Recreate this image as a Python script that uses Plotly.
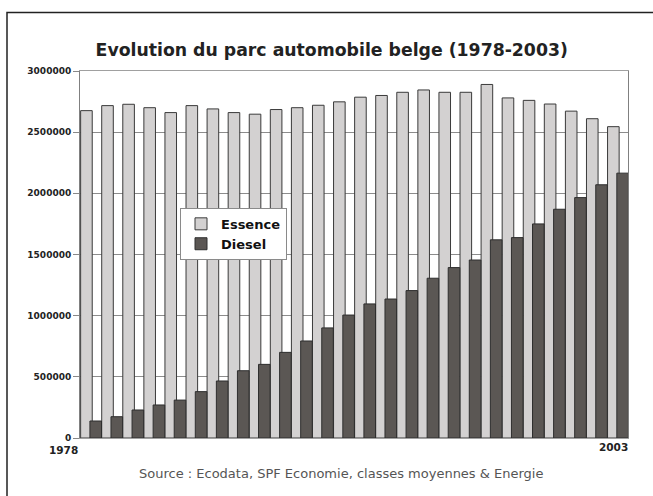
import plotly.graph_objects as go

years = list(range(1978, 2004))
essence = [2676000, 2717000, 2728000, 2700000, 2660000, 2717000, 2690000, 2660000, 2647000,
           2685000, 2700000, 2720000, 2748000, 2786000, 2800000, 2826000, 2845000, 2826000,
           2826000, 2890000, 2780000, 2760000, 2730000, 2672000, 2610000, 2545000]
diesel = [139000, 174000, 229000, 270000, 310000, 379000, 466000, 550000, 602000,
          700000, 793000, 900000, 1005000, 1096000, 1136000, 1205000, 1306000, 1393000,
          1455000, 1620000, 1638000, 1750000, 1870000, 1965000, 2070000, 2165000]
series_names = ["Essence", "Diesel"]
y_ticks = [0, 500000, 1000000, 1500000, 2000000, 2500000, 3000000]
first_label, last_label = str(years[0]), str(years[-1])
title_text = "Evolution du parc automobile belge (1978-2003)"
source_text = "Source : Ecodata, SPF Economie, classes moyennes & Energie"

FONT = "DejaVu Sans, Liberation Sans, Arial, sans-serif"

fig = go.Figure()
fig.add_trace(go.Bar(
    x=years, y=essence, name=series_names[0],
    offset=-0.47, width=0.55,
    marker=dict(color="#d3d1d1", line=dict(color="#3a3a3a", width=1)),
))
fig.add_trace(go.Bar(
    x=years, y=diesel, name=series_names[1],
    offset=-0.03, width=0.55,
    marker=dict(color="#5b5754", line=dict(color="#2e2e2e", width=1)),
))

fig.update_layout(
    width=653, height=496,
    margin=dict(l=80, r=25, t=71, b=58),
    paper_bgcolor="white", plot_bgcolor="white",
    barmode="overlay",
    showlegend=True,
    title=dict(text=title_text, x=0.508, xanchor="center", xref="container",
               y=1 - 50 / 496, yanchor="middle", yref="container",
               font=dict(family=FONT, size=17.3, color="#222222", weight="bold")),
    legend=dict(x=0.1825, y=0.627, xanchor="left", yanchor="top",
                bgcolor="white", bordercolor="#8a8a8a", borderwidth=1,
                font=dict(family=FONT, size=13, color="#111111", weight="bold"),
                traceorder="normal"),
    xaxis=dict(range=[years[0] - 0.5, years[-1] + 0.5], showticklabels=False,
               showgrid=False, ticks="", showline=True, linecolor="#a0a0a0",
               mirror=True, zeroline=False),
    yaxis=dict(range=[0, 3000000], tickvals=y_ticks,
               ticktext=[str(v) for v in y_ticks],
               tickfont=dict(family=FONT, size=9, color="#222222", weight="bold"),
               ticks="outside", ticklen=6, tickcolor="#888888",
               showgrid=True, gridcolor="#8c8c8c", gridwidth=1,
               showline=True, linecolor="#808080", mirror=True, zeroline=False),
    annotations=[
        dict(x=years[0], y=0, xref="x", yref="paper", text=first_label, showarrow=False,
             xshift=-27, yshift=-20, font=dict(family=FONT, size=10.5, color="#222222", weight="bold")),
        dict(x=years[-1], y=0, xref="x", yref="paper", text=last_label, showarrow=False,
             xshift=-4, yshift=-17, font=dict(family=FONT, size=10.5, color="#222222", weight="bold")),
        dict(x=(341 - 80) / 548, y=(438 - 473) / 367, xref="paper", yref="paper", text=source_text,
             showarrow=False, xanchor="center", yanchor="middle",
             font=dict(family=FONT, size=13, color="#555555")),
    ],
    shapes=[
        dict(type="rect", xref="paper", yref="paper",
             x0=(7 - 80) / 548, x1=(720 - 80) / 548,
             y0=(438 - 540) / 367, y1=(438 - 12.5) / 367,
             line=dict(color="#222222", width=1.5), fillcolor="rgba(0,0,0,0)", layer="below"),
    ],
)

fig.write_html("out.html", config={"displayModeBar": False},
               post_script="document.body.style.margin='0';document.body.style.overflow='hidden';")
